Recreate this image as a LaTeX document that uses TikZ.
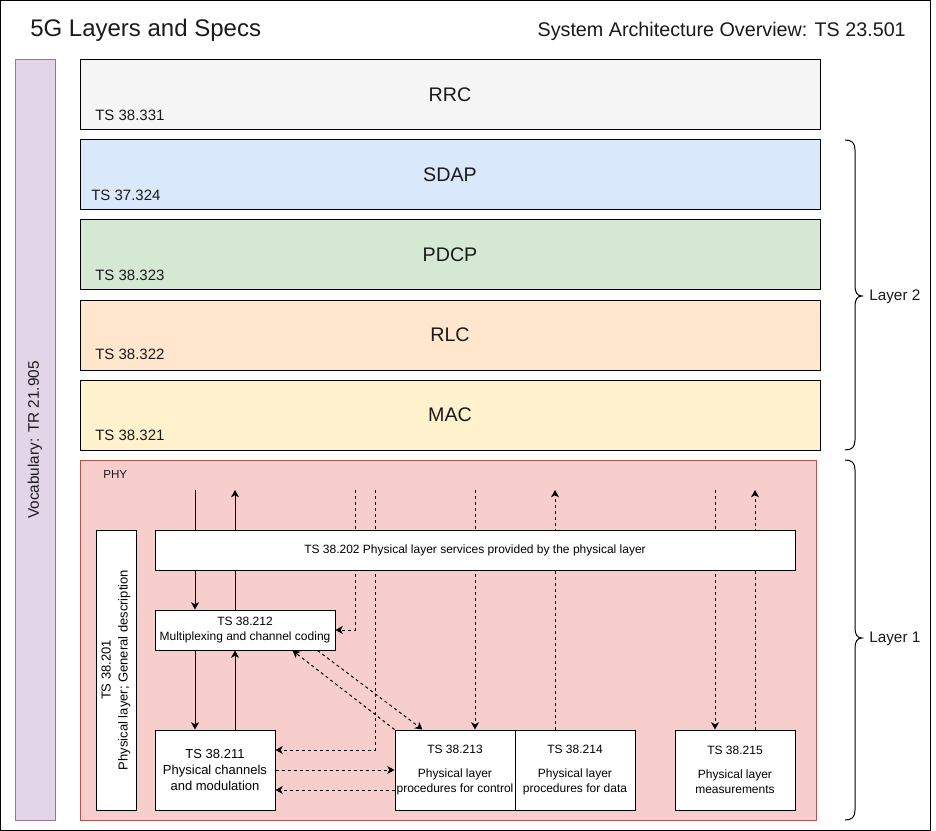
\documentclass[tikz,border=0pt]{standalone}
\usepackage{fontspec}
\setmainfont{Liberation Sans}
\usetikzlibrary{arrows.meta,calc}
\pgfdeclarelayer{back}
\pgfdeclarelayer{mid}
\pgfsetlayers{back,mid,main}
\definecolor{vocfill}{HTML}{E1D5E7}
\definecolor{vocline}{HTML}{9673A6}
\definecolor{rrcfill}{HTML}{F5F5F5}
\definecolor{sdapfill}{HTML}{DAE8FC}
\definecolor{pdcpfill}{HTML}{D5E8D4}
\definecolor{rlcfill}{HTML}{FFE6CC}
\definecolor{macfill}{HTML}{FFF2CC}
\definecolor{phyfill}{HTML}{F8CECC}
\definecolor{phyline}{HTML}{B85450}
\definecolor{txt}{HTML}{1A1A1A}
\tikzset{
  sz/.style 2 args={minimum width=#1*0.75pt, minimum height=#2*0.75pt},
  layerbox/.style={draw=black, line width=0.75pt, inner sep=0pt, font=\fontsize{14.75pt}{17pt}\selectfont, text=txt},
  tslabel/.style={anchor=west, inner sep=0pt, font=\fontsize{11.25pt}{13pt}\selectfont, text=txt},
  specbox/.style={draw=black, fill=white, line width=0.75pt, inner sep=0pt, align=center, font=\fontsize{9pt}{11.25pt}\selectfont},
  arr/.style={line width=0.75pt, -{Stealth[length=5.5pt,width=6pt,inset=1.6pt]}},
  darr/.style={arr, dash pattern=on 2.25pt off 2.25pt},
  bracepath/.style={line width=0.75pt},
  bracelabel/.style={anchor=west, inner sep=0pt, font=\fontsize{11.5pt}{13pt}\selectfont, text=txt}
}
\begin{document}
\begin{tikzpicture}[x=0.75pt,y=-0.75pt]
\useasboundingbox (0,0) rectangle (936,831);
\begin{pgfonlayer}{back}
\fill[white] (0,0) rectangle (936,831);
\end{pgfonlayer}
\draw[line width=0.75pt] (0.5,0.5) rectangle (930,830);

% titles
\node[anchor=west, inner sep=0pt, font=\fontsize{18pt}{21pt}\selectfont, text=txt] (title) at (30,30) {5G Layers and Specs};
\node[anchor=east, inner sep=0pt, font=\fontsize{14.8pt}{18pt}\selectfont, text=txt] (arch) at (906,31) {System Architecture Overview: TS 23.501};

% vocabulary
\node[draw=vocline, fill=vocfill, line width=0.75pt, rotate=90, sz={760}{40}, inner sep=0pt, font=\fontsize{11.5pt}{13pt}\selectfont, text=txt] (voc) at (35,440) {Vocabulary: TR 21.905};

% layer 2/3 boxes
\node[layerbox, fill=rrcfill, sz={740}{70}] (rrc) at (450,95) {RRC};
\node[tslabel] (rrcts) at (95,115) {TS 38.331};
\node[layerbox, fill=sdapfill, sz={740}{70}] (sdap) at (450,175) {SDAP};
\node[tslabel] (sdapts) at (91,195) {TS 37.324};
\node[layerbox, fill=pdcpfill, sz={740}{70}] (pdcp) at (450,255) {PDCP};
\node[tslabel] (pdcpts) at (95,275) {TS 38.323};
\node[layerbox, fill=rlcfill, sz={740}{70}] (rlc) at (450,335) {RLC};
\node[tslabel] (rlcts) at (95,354) {TS 38.322};
\node[layerbox, fill=macfill, sz={740}{70}] (mac) at (450,415) {MAC};
\node[tslabel] (macts) at (95,435) {TS 38.321};

% PHY container
\begin{pgfonlayer}{back}
\node[draw=phyline, fill=phyfill, line width=0.75pt, sz={736}{360}, inner sep=0pt] (phy) at (448,640) {};
\end{pgfonlayer}
\node[anchor=west, inner sep=0pt, font=\fontsize{8.75pt}{10pt}\selectfont, text=txt] (phylabel) at (103,474) {PHY};

% spec boxes
\node[specbox, rotate=90, sz={280}{40}, font=\fontsize{9.75pt}{12.75pt}\selectfont] (n201) at (116,670) {TS 38.201\\Physical layer; General description};
\node[specbox, sz={640}{40}] (n202) at (475,550) {TS 38.202 Physical layer services provided by the physical layer};
\node[specbox, sz={180}{40}] (n212) at (245,630) {TS 38.212\\Multiplexing and channel coding};
\node[specbox, sz={120}{80}, font=\fontsize{9.75pt}{12pt}\selectfont] (n211) at (215,770) {TS 38.211\\Physical channels\\and modulation};
\node[specbox, sz={120}{80}] (n213) at (455,770) {TS 38.213\\[7pt]Physical layer\\procedures for control};
\node[specbox, sz={120}{80}] (n214) at (575,770) {TS 38.214\\[7pt]Physical layer\\procedures for data};
\node[specbox, sz={120}{80}] (n215) at (735,770) {TS 38.215\\[7pt]Physical layer\\measurements};

% free ends of connectors
\coordinate (a1) at (195,490);
\coordinate (a2) at (235,490);
\coordinate (d1) at (355,490);
\coordinate (d2) at (375,490);
\coordinate (d3) at (475,490);
\coordinate (d4) at (555,490);
\coordinate (d5) at (715,490);
\coordinate (d6) at (755,490);

\begin{pgfonlayer}{mid}
\draw[arr] (a1) -- (a1 |- n212.north);
\draw[arr] (n212.north -| a2) -- (a2);
\draw[arr] (a1 |- n212.south) -- (a1 |- n211.north);
\draw[arr] (a2 |- n211.north) -- (a2 |- n212.south);
\draw[darr] (d1) |- (n212.east);
\draw[darr] (d2) |- ($(n211.east)+(0,-20)$);
\draw[darr] (d3) -- (d3 |- n213.north);
\draw[darr] (n214.north -| d4) -- (d4);
\draw[darr] (d5) -- (d5 |- n215.north);
\draw[darr] (n215.north -| d6) -- (d6);
\draw[darr] (n211.east) -- (n213.west);
\draw[darr] ($(n213.west)+(0,20)$) -- ($(n211.east)+(0,20)$);
\draw[darr] ($(n212.south west)+(163,0)$) -- ($(n213.north west)+(28,0)$);
\draw[darr] (n213.north west) -- ($(n212.south west)+(138,0)$);
\end{pgfonlayer}

% braces
\draw[bracepath] (845,140) .. controls (852,140) and (855,143) .. (855,150) -- (855,286)
  .. controls (855,292) and (857,296) .. (862,296)
  .. controls (857,296) and (855,300) .. (855,306) -- (855,440)
  .. controls (855,447) and (852,450) .. (845,450);
\node[bracelabel] (l2) at (869,297) {Layer 2};
\draw[bracepath] (845,460) .. controls (852,460) and (855,463) .. (855,470) -- (855,628)
  .. controls (855,634) and (857,638) .. (862,638)
  .. controls (857,638) and (855,642) .. (855,648) -- (855,810)
  .. controls (855,817) and (852,820) .. (845,820);
\node[bracelabel] (l1) at (869,639) {Layer 1};
\end{tikzpicture}
\end{document}
